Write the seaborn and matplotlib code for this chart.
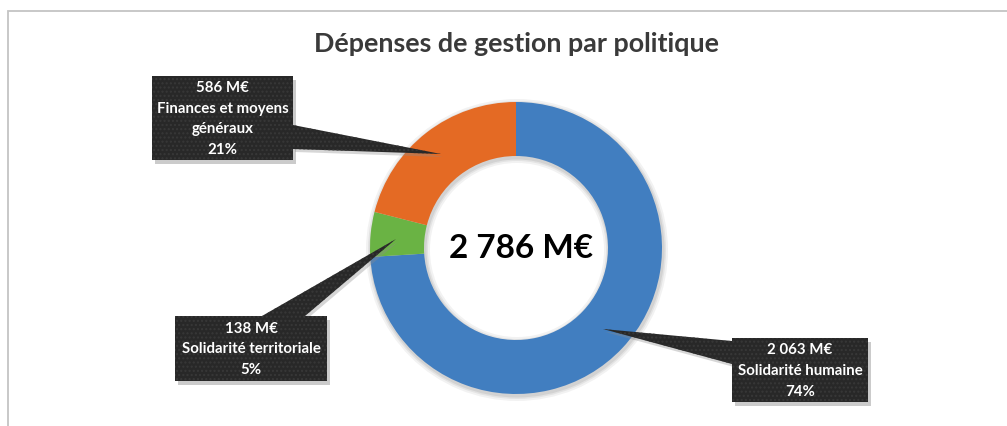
import matplotlib
matplotlib.use("Agg")
import matplotlib.pyplot as plt
from matplotlib.patches import Rectangle, Polygon
import seaborn as sns

# data
categories = ["Solidarité humaine", "Solidarité territoriale", "Finances et moyens\ngénéraux"]
values = [2063, 138, 586]
total_label = 2786
colors = sns.color_palette(["#417EC0", "#6AB344", "#E46A24"])

sns.set_theme(style="white")
plt.rcParams['font.family'] = ['Lato', 'DejaVu Sans']

W, H = 1007, 427
fig = plt.figure(figsize=(W / 100, H / 100), dpi=100)
ax = fig.add_axes([0, 0, 1, 1])


def py(y):
    # pixel row -> data y
    return H - y


def fmt(v):
    return f"{v:,}".replace(",", " ") + " M€"


# outer frame
ax.plot([8, 8, W + 5], [py(H + 5), py(12), py(12)], color="#c4c4c4", lw=1.3,
        solid_joinstyle="miter", zorder=1)

cx, cy, r = 516, py(249), 146
width = 54

# soft shadow of the ring
for k, a in [(5, 0.05), (3, 0.06), (1.5, 0.07)]:
    ax.pie([1], radius=r + k, center=(cx + 1, cy - 2), colors=["#000000"],
           wedgeprops=dict(width=width + 2 * k, alpha=a, linewidth=0))

ax.pie(values, radius=r, center=(cx, cy), colors=colors, startangle=90,
       counterclock=False, wedgeprops=dict(width=width, linewidth=0))

ax.text(cx + 5, py(248), fmt(total_label), ha="center", va="center",
        fontsize=24, fontweight="bold", color="#000000")

ax.text(516, py(44), "Dépenses de gestion par politique", ha="center", va="center",
        fontsize=19.4, fontweight="bold", color="#3a3a3a")

# callouts: box (x0, y0, x1, y1) in pixels, pointer base points and tip
callouts = [
    ((732, 339, 868, 403), [(732, 342), (732, 365)], (603, 330)),
    ((175, 317, 327, 382), [(262, 317), (305, 317)], (396, 240)),
    ((152, 77, 293, 161), [(293, 126), (293, 150)], (441, 155)),
]

total = sum(values)
for (box, base, tip), cat, v in zip(callouts, categories, values):
    x0, y0, x1, y1 = box
    pts = [(x, py(y)) for x, y in base] + [(tip[0], py(tip[1]))]
    # shadow
    ax.add_patch(Rectangle((x0 + 3, py(y1) - 4), x1 - x0, y1 - y0,
                           facecolor="#8c8c8c", alpha=0.45, lw=0, zorder=4))
    ax.add_patch(Polygon([(x + 2, y - 3) for x, y in pts], closed=True,
                         facecolor="#8c8c8c", alpha=0.35, lw=0, zorder=4))
    ax.add_patch(Polygon(pts, closed=True, facecolor="#282828", edgecolor="#383838",
                         hatch="....", lw=0, zorder=5))
    ax.add_patch(Rectangle((x0, py(y1)), x1 - x0, y1 - y0, facecolor="#282828",
                           edgecolor="#383838", hatch="....", lw=0, zorder=6))
    label = f"{fmt(v)}\n{cat}\n{round(100 * v / total)}%"
    ax.text((x0 + x1) / 2, py((y0 + y1) / 2), label, ha="center", va="center",
            fontsize=10.8, fontweight="bold", color="white", linespacing=1.62, zorder=7)

ax.set_xlim(0, W)
ax.set_ylim(0, H)
ax.set_aspect("auto")
ax.axis("off")

fig.savefig("out.png", dpi=100)
